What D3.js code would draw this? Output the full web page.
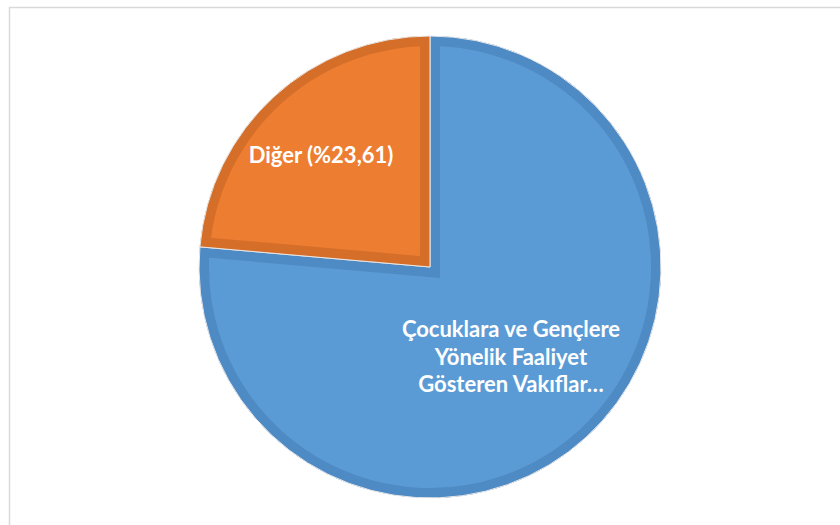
<!DOCTYPE html>
<html>
<head>
<meta charset="utf-8">
<script src="https://cdnjs.cloudflare.com/ajax/libs/d3/7.8.5/d3.min.js"></script>
<style>
  body { margin: 0; background: #fff; }
  svg { display: block; }
</style>
</head>
<body>
<div id="chart"></div>
<script>
const WIDTH = 840, HEIGHT = 525;
const CX = 430, CY = 267, RADIUS = 231;
const BAND = 10;

const categories = ["Çocuklara ve Gençlere Yönelik Faaliyet Gösteren Vakıflar", "Diğer"];
const values = [76.39, 23.61];
const fills = ["#5b9bd5", "#ed7d31"];
const bands = ["#4e8ac3", "#d56e29"];

const svg = d3.select("#chart")
  .append("svg")
  .attr("width", WIDTH)
  .attr("height", HEIGHT);

// chart frame
svg.append("rect")
  .attr("x", 9.5)
  .attr("y", 7.5)
  .attr("width", WIDTH + 10)
  .attr("height", HEIGHT + 10)
  .attr("fill", "#fff")
  .attr("stroke", "#d9d9d9")
  .attr("stroke-width", 1.5);

const pie = d3.pie().sort(null).value(d => d.value);
const arc = d3.arc().innerRadius(0).outerRadius(RADIUS);

const data = categories.map((c, i) => ({ name: c, value: values[i], i }));
const arcs = pie(data);

const g = svg.append("g").attr("transform", `translate(${CX}, ${CY})`);

const defs = svg.append("defs");
arcs.forEach((d, i) => {
  defs.append("clipPath")
    .attr("id", "clip" + i)
    .append("path")
    .attr("d", arc(d));
});

const slices = g.selectAll("g.slice")
  .data(arcs)
  .enter()
  .append("g")
  .attr("class", "slice");

slices.append("path")
  .attr("d", arc)
  .attr("fill", d => fills[d.data.i]);

// darker inner band (bevel look)
slices.append("path")
  .attr("d", arc)
  .attr("fill", "none")
  .attr("stroke", d => bands[d.data.i])
  .attr("stroke-width", BAND * 2)
  .attr("stroke-linejoin", "miter")
  .attr("clip-path", (d, i) => `url(#clip${i})`);

// thin light separator
slices.append("path")
  .attr("d", arc)
  .attr("fill", "none")
  .attr("stroke", "#e8e8e8")
  .attr("stroke-width", 1);

// labels
const labelFont = "Lato, 'Open Sans', sans-serif";

svg.append("text")
  .attr("x", 321)
  .attr("y", 163)
  .attr("text-anchor", "middle")
  .attr("fill", "#fff")
  .attr("font-family", labelFont)
  .attr("font-weight", "bold")
  .attr("font-size", 22)
  .text("Diğer (%23,61)");

const blueLines = ["Çocuklara ve Gençlere", "Yönelik Faaliyet", "Gösteren Vakıflar…"];
svg.append("text")
  .attr("text-anchor", "middle")
  .attr("fill", "#fff")
  .attr("font-family", labelFont)
  .attr("font-weight", "bold")
  .attr("font-size", 22)
  .selectAll("tspan")
  .data(blueLines)
  .enter()
  .append("tspan")
  .attr("x", 511)
  .attr("y", (d, i) => 337 + i * 27.5)
  .text(d => d);
</script>
</body>
</html>
